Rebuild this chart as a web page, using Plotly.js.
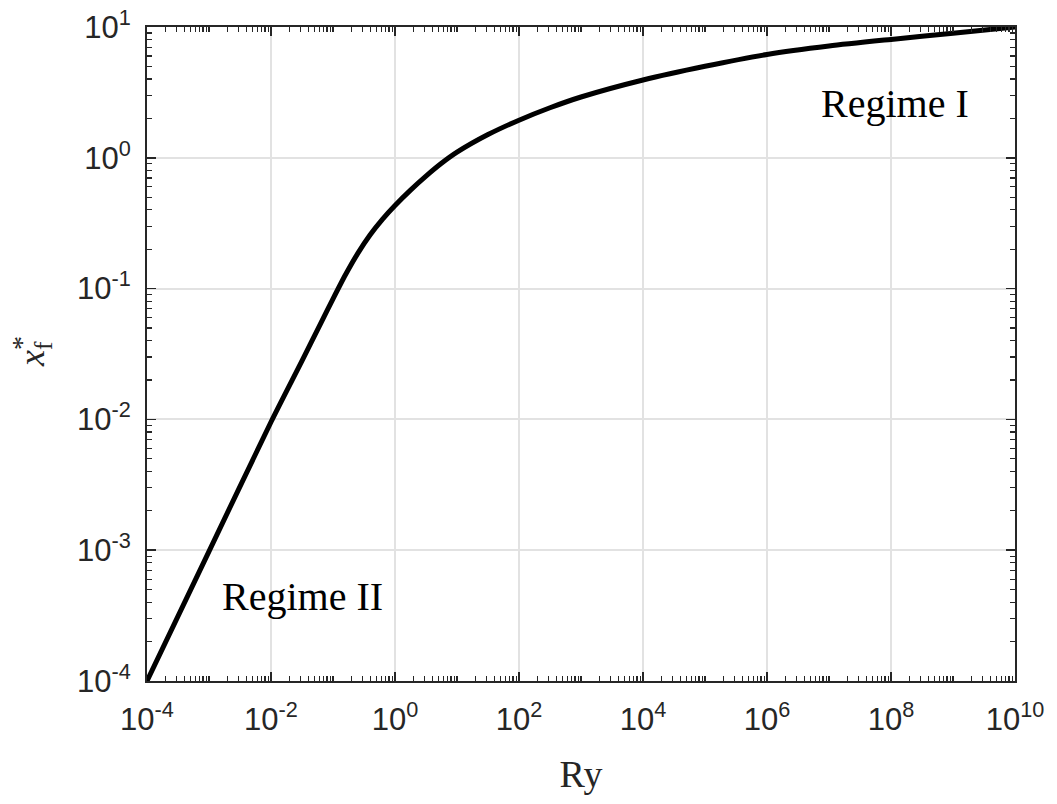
<!DOCTYPE html>
<html>
<head>
<meta charset="utf-8">
<script src="https://cdn.plot.ly/plotly-3.0.1.min.js"></script>
<style>html,body{margin:0;padding:0;background:#fff;}#chart{width:1057px;height:804px;}</style>
</head>
<body>
<div id="chart"></div>
<script>
// Data (log-log curve)
const ry = [1e-4, 1e-3, 1e-2, 0.0316, 0.0631, 0.1, 0.158, 0.251, 0.398, 0.631, 1, 1.78, 3.16, 5.62, 10, 31.6, 100, 316, 1000, 1e4, 1e5, 1e6, 1e7, 1e8, 1e9, 1e10];
const xf = [1e-4, 9.8e-4, 0.00955, 0.0280, 0.0540, 0.0835, 0.127, 0.186, 0.258, 0.340, 0.432, 0.566, 0.724, 0.907, 1.103, 1.505, 1.939, 2.413, 2.917, 3.936, 5.01, 6.17, 7.16, 8.04, 8.97, 10];

const xTickVals = [1e-4, 1e-2, 1e0, 1e2, 1e4, 1e6, 1e8, 1e10];
const xTickText = ['10<sup>-4</sup>','10<sup>-2</sup>','10<sup>0</sup>','10<sup>2</sup>','10<sup>4</sup>','10<sup>6</sup>','10<sup>8</sup>','10<sup>10</sup>'];
const yTickVals = [1e-4, 1e-3, 1e-2, 1e-1, 1e0, 1e1];
const yTickText = ['10<sup>-4</sup>','10<sup>-3</sup>','10<sup>-2</sup>','10<sup>-1</sup>','10<sup>0</sup>','10<sup>1</sup>'];

const axisColor = '#262626';
const tickFont = {family: 'Liberation Sans, Arial, sans-serif', size: 31, color: axisColor};
const serif = 'Liberation Serif, Times New Roman, serif';

const trace = {
  x: ry, y: xf, type: 'scatter', mode: 'lines',
  line: {color: '#000000', width: 5, shape: 'spline', smoothing: 0.7},
  hoverinfo: 'skip', showlegend: false
};

const L = 147, R = 42, T = 27, B = 123, W = 1057, H = 804;
const pw = W - L - R, ph = H - T - B;
function px(x) { return (x - L) / pw; }
function py(y) { return (H - B - y) / ph; }

const layout = {
  width: W, height: H,
  margin: {l: L, r: R, t: T, b: B},
  paper_bgcolor: '#ffffff', plot_bgcolor: '#ffffff',
  showlegend: false,
  xaxis: {
    type: 'log', range: [-4, 10],
    tickmode: 'array', tickvals: xTickVals, ticktext: xTickText,
    ticks: 'inside', ticklen: 9, tickwidth: 1.5, tickcolor: axisColor,
    showline: true, linecolor: axisColor, linewidth: 2, mirror: 'allticks',
    showgrid: true, gridcolor: '#e2e2e2', gridwidth: 2,
    zeroline: false, tickfont: tickFont, ticklabelstandoff: 10,
    minor: {ticks: 'inside', ticklen: 5, tickwidth: 1.2, tickcolor: axisColor, dtick: 'D1', showgrid: false},
    title: {text: 'Ry', font: {family: serif, size: 38, color: axisColor}, standoff: 24}
  },
  yaxis: {
    type: 'log', range: [-4, 1],
    tickmode: 'array', tickvals: yTickVals, ticktext: yTickText,
    ticks: 'inside', ticklen: 9, tickwidth: 1.5, tickcolor: axisColor,
    showline: true, linecolor: axisColor, linewidth: 2, mirror: 'allticks',
    showgrid: true, gridcolor: '#e2e2e2', gridwidth: 2,
    zeroline: false, tickfont: tickFont, ticklabelstandoff: 8,
    minor: {ticks: 'inside', ticklen: 5, tickwidth: 1.2, tickcolor: axisColor, dtick: 'D1', showgrid: false},
    title: {text: ''}
  },
  annotations: [
    {xref: 'paper', yref: 'paper', x: px(34), y: py(354), text: '<i>x</i><sub>f</sub>', textangle: -90, showarrow: false,
     font: {family: serif, size: 36, color: axisColor}, xanchor: 'center', yanchor: 'middle'},
    {xref: 'paper', yref: 'paper', x: px(22), y: py(343), text: '*', textangle: -90, showarrow: false,
     font: {family: serif, size: 28, color: axisColor}, xanchor: 'center', yanchor: 'middle'},
    {xref: 'paper', yref: 'paper', x: px(895), y: py(103), text: 'Regime I', showarrow: false,
     font: {family: serif, size: 40, color: '#000'}, xanchor: 'center', yanchor: 'middle'},
    {xref: 'paper', yref: 'paper', x: px(302), y: py(596), text: 'Regime II', showarrow: false,
     font: {family: serif, size: 40, color: '#000'}, xanchor: 'center', yanchor: 'middle'}
  ]
};

Plotly.newPlot('chart', [trace], layout, {displayModeBar: false, staticPlot: true});
</script>
</body>
</html>
